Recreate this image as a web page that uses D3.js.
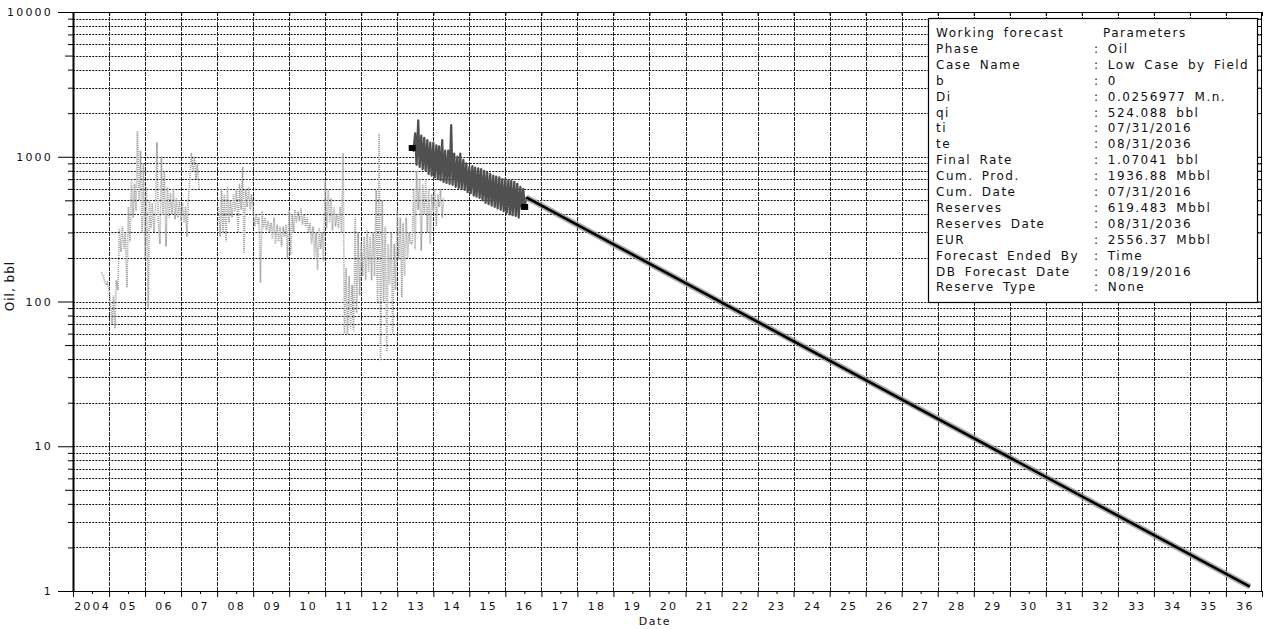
<!DOCTYPE html>
<html>
<head>
<meta charset="utf-8">
<script src="https://cdn.jsdelivr.net/npm/d3@7"></script>
<style>
  html, body { margin: 0; padding: 0; background: #fff; }
  svg { display: block; }
  text { font-family: "DejaVu Sans", sans-serif; fill: #111; }
</style>
</head>
<body>
<svg id="chart" width="1264" height="629"></svg>
<script>
// ---- Oil rate history (daily readings, gray) ----
const histDates = [
  "2004-10-15","2004-11-01","2004-11-15","2004-12-01","2004-12-15",
  "2005-01-01","2005-01-15","2005-02-01","2005-02-15","2005-03-01","2005-03-15","2005-04-01","2005-04-15","2005-05-01","2005-05-15","2005-06-01","2005-06-15",
  "2005-07-01","2005-07-15","2005-08-01","2005-08-15","2005-09-01","2005-09-15","2005-10-01","2005-10-15","2005-11-01","2005-11-15","2005-12-01","2005-12-15",
  "2006-01-01","2006-01-15","2006-02-01","2006-02-15","2006-03-01","2006-03-15","2006-04-01","2006-04-15","2006-05-01","2006-05-15","2006-06-01","2006-06-15",
  "2006-07-01","2006-07-15","2006-08-01","2006-08-15","2006-09-01","2006-09-15","2006-10-01","2006-10-15","2006-11-01","2006-11-15","2006-12-01","2006-12-15",
  "2007-01-01","2007-01-15","2007-02-01","2007-02-15","2007-03-01","2007-03-15","2007-04-01","2007-04-15","2007-05-01","2007-05-15","2007-06-01","2007-06-15",
  "2007-07-01","2007-07-15",
  "2008-01-15","2008-02-01","2008-02-15","2008-03-01","2008-03-15","2008-04-01","2008-04-15","2008-05-01","2008-05-15","2008-06-01","2008-06-15",
  "2008-07-01","2008-07-15","2008-08-01","2008-08-15","2008-09-01","2008-09-15","2008-10-01","2008-10-15","2008-11-01","2008-11-15","2008-12-01","2008-12-15",
  "2009-01-01","2009-01-15","2009-02-01","2009-02-15","2009-03-01","2009-03-15","2009-04-01","2009-04-15","2009-05-01","2009-05-15","2009-06-01","2009-06-15",
  "2009-07-01","2009-07-15","2009-08-01","2009-08-15","2009-09-01","2009-09-15","2009-10-01","2009-10-15","2009-11-01","2009-11-15","2009-12-01","2009-12-15",
  "2010-01-01","2010-01-15","2010-02-01","2010-02-15","2010-03-01","2010-03-15","2010-04-01","2010-04-15","2010-05-01","2010-05-15","2010-06-01","2010-06-15",
  "2010-07-01","2010-07-15","2010-08-01","2010-08-15","2010-09-01","2010-09-15","2010-10-01","2010-10-15","2010-11-01","2010-11-15","2010-12-01","2010-12-15",
  "2011-01-01","2011-01-15","2011-02-01","2011-02-15","2011-03-01","2011-03-15","2011-04-01","2011-04-15","2011-05-01","2011-05-15","2011-06-01","2011-06-15",
  "2011-07-01","2011-07-15","2011-08-01","2011-08-15","2011-09-01","2011-09-15","2011-10-01","2011-10-15","2011-11-01","2011-11-15","2011-12-01","2011-12-15",
  "2012-01-01","2012-01-15","2012-02-01","2012-02-15","2012-03-01","2012-03-15","2012-04-01","2012-04-15","2012-05-01","2012-05-15","2012-06-01","2012-06-15",
  "2012-07-01","2012-07-15","2012-08-01","2012-08-15","2012-09-01","2012-09-15","2012-10-01","2012-10-15","2012-11-01","2012-11-15","2012-12-01","2012-12-15",
  "2013-01-01","2013-01-15","2013-02-01","2013-02-15","2013-03-01","2013-03-15","2013-04-01","2013-04-15","2013-05-01","2013-05-15","2013-06-01","2013-06-15",
  "2013-07-01","2013-07-15","2013-08-01","2013-08-15","2013-09-01","2013-09-15","2013-10-01","2013-10-15","2013-11-01","2013-11-15","2013-12-01","2013-12-15",
  "2014-01-01","2014-01-15","2014-02-01","2014-02-15","2014-03-01","2014-03-15","2014-04-01","2014-04-15"
];
const histOil = [
  160,150,140,130,135,
  120,95,70,110,65,140,120,320,220,330,230,300,
  125,450,260,700,380,650,420,1500,500,1100,300,900,
  200,620,90,500,320,480,300,420,1260,350,250,1000,
  400,800,240,620,380,560,400,600,370,520,380,500,
  360,480,350,450,280,500,720,1060,800,1000,700,900,
  600,null,
  450,280,600,300,550,260,620,350,500,380,550,
  420,600,300,650,430,850,215,600,450,620,430,550,
  420,330,400,340,380,135,420,320,380,310,360,300,
  350,270,380,250,340,260,330,240,330,280,340,200,
  430,210,400,300,430,350,420,360,440,340,400,330,
  380,300,350,250,330,200,300,165,320,230,300,190,
  690,320,600,350,520,310,450,330,400,320,450,300,
  1060,60,170,60,150,65,130,62,380,83,300,110,
  250,150,280,140,310,160,280,140,300,150,590,97,
  1450,39,500,100,330,45,250,130,300,60,250,120,
  430,195,380,107,350,150,380,200,300,250,250,600,
  230,800,430,700,225,650,400,700,300,600,250,550,
  420,600,330,550,450,600,380,520
];

// ---- Readings used for the decline fit (dark) ----
const fitDates = [
  "2013-06-01","2013-06-15","2013-07-01","2013-07-15","2013-08-01","2013-08-15","2013-09-01","2013-09-15","2013-10-01","2013-10-15","2013-11-01","2013-11-15","2013-12-01","2013-12-15",
  "2014-01-01","2014-01-15","2014-02-01","2014-02-15","2014-03-01","2014-03-15","2014-04-01","2014-04-15","2014-05-01","2014-05-15","2014-06-01","2014-06-15",
  "2014-07-01","2014-07-15","2014-08-01","2014-08-15","2014-09-01","2014-09-15","2014-10-01","2014-10-15","2014-11-01","2014-11-15","2014-12-01","2014-12-15",
  "2015-01-01","2015-01-15","2015-02-01","2015-02-15","2015-03-01","2015-03-15","2015-04-01","2015-04-15","2015-05-01","2015-05-15","2015-06-01","2015-06-15",
  "2015-07-01","2015-07-15","2015-08-01","2015-08-15","2015-09-01","2015-09-15","2015-10-01","2015-10-15","2015-11-01","2015-11-15","2015-12-01","2015-12-15",
  "2016-01-01","2016-01-15","2016-02-01","2016-02-15","2016-03-01","2016-03-15","2016-04-01","2016-04-15","2016-05-01","2016-05-15","2016-06-01","2016-06-15",
  "2016-07-01","2016-07-15","2016-07-31"
];
const fitOil = [
  1150,1100,1450,880,1780,850,1400,820,1350,800,1300,760,1250,740,
  1250,720,1200,700,1180,690,1300,670,1100,660,1100,650,
  1650,640,1050,620,1000,610,1050,600,950,590,900,570,
  850,560,860,540,840,530,830,520,820,500,800,480,
  780,470,760,460,740,450,730,440,720,430,700,420,
  700,410,690,400,680,395,670,390,650,380,620,440,
  600,450,524
];

// ---- Exponential forecast (straight on the log axis) ----
const forecastDates = ["2016-07-31", "2036-08-31"];
const forecastOil = [524.088, 1.07041];

// ---- Axis text ----
const yearLabels = ["2004","05","06","07","08","09","10","11","12","13","14","15","16","17","18","19","20",
  "21","22","23","24","25","26","27","28","29","30","31","32","33","34","35","36"];
const rateLabels = ["1","10","100","1000","10000"];
const rateMajors = [1, 10, 100, 1000, 10000];

// ---- Forecast parameter table ----
const paramNames = ["Working forecast","Phase","Case Name","b","Di","qi","ti","te","Final Rate","Cum. Prod.",
  "Cum. Date","Reserves","Reserves Date","EUR","Forecast Ended By","DB Forecast Date","Reserve Type"];
const paramValues = ["Parameters",": Oil",": Low Case by Field",": 0",": 0.0256977 M.n.",": 524.088 bbl",
  ": 07/31/2016",": 08/31/2036",": 1.07041 bbl",": 1936.88 Mbbl",": 07/31/2016",": 619.483 Mbbl",
  ": 08/31/2036",": 2556.37 Mbbl",": Time",": 08/19/2016",": None"];

(function draw() {
  const parse = d3.utcParse("%Y-%m-%d");
  const svg = d3.select("#chart");

  const plotLeft = 73, plotRight = 1262, plotTop = 12, plotBottom = 591;
  const x = d3.scaleUtc().domain([Date.UTC(2004, 0, 1), Date.UTC(2037, 0, 1)]).range([plotLeft, plotRight]);
  const y = d3.scaleLog().domain([1, 10000]).range([plotBottom, plotTop]);

  const yearStarts = d3.utcYear.range(new Date(Date.UTC(2004, 0, 1)), new Date(Date.UTC(2037, 0, 2)));
  const midYears = yearLabels.map((_, i) => new Date(Date.UTC(2004 + i, 6, 2)));

  // minor rate levels 2..9 within each decade
  const minorRates = [];
  [1, 10, 100, 1000].forEach(d => { for (let k = 2; k <= 9; k++) minorRates.push(d * k); });

  // ---- grid ----
  const grid = svg.append("g").attr("class", "grid");
  grid.selectAll("line.h")
    .data(minorRates.concat([10, 100, 1000]))
    .join("line")
    .attr("x1", plotLeft).attr("x2", plotRight)
    .attr("y1", d => Math.round(y(d)) + 0.5).attr("y2", d => Math.round(y(d)) + 0.5)
    .attr("stroke", "#111").attr("stroke-width", 1).attr("stroke-dasharray", "2,1.2");
  grid.selectAll("line.v")
    .data(yearStarts.slice(1, -1))
    .join("line")
    .attr("x1", d => Math.round(x(d)) + 0.5).attr("x2", d => Math.round(x(d)) + 0.5)
    .attr("y1", plotTop).attr("y2", plotBottom)
    .attr("stroke", "#222").attr("stroke-width", 1).attr("stroke-dasharray", "4,1");

  // ---- data ----
  const hist = histDates.map((d, i) => ({ t: parse(d), v: histOil[i] }));
  const fit = fitDates.map((d, i) => ({ t: parse(d), v: fitOil[i] }));
  const fc = forecastDates.map((d, i) => ({ t: parse(d), v: forecastOil[i] }));

  const line = d3.line().defined(d => d.v != null).x(d => x(d.t)).y(d => y(d.v));

  svg.append("path").datum(hist).attr("d", line)
    .attr("fill", "none").attr("stroke", "#a2a2a2").attr("stroke-width", 1.7)
    .attr("stroke-dasharray", "1,1");

  svg.append("path").datum(fit).attr("d", line)
    .attr("fill", "none").attr("stroke", "#505050").attr("stroke-width", 2.3)
    .attr("stroke-linejoin", "round");

  // square markers where the fit window starts and ends
  svg.append("g").selectAll("rect")
    .data([fit[0], fit[fit.length - 2]])
    .join("rect")
    .attr("x", d => x(d.t) - 3.5).attr("y", d => y(d.v) - 3)
    .attr("width", 7).attr("height", 6).attr("fill", "#000");

  svg.append("path").datum(fc).attr("d", line)
    .attr("fill", "none").attr("stroke", "#8a8a8a").attr("stroke-width", 6).attr("stroke-opacity", 0.7);
  svg.append("path").datum(fc).attr("d", line)
    .attr("fill", "none").attr("stroke", "#000").attr("stroke-width", 2.6);

  // ---- axes ----
  const axisFont = g => g.selectAll("text")
    .attr("font-family", "DejaVu Sans, sans-serif").attr("font-size", 11)
    .attr("letter-spacing", "2.2px").attr("fill", "#111");

  // bottom: year boundary ticks
  const xTicks = svg.append("g").attr("transform", `translate(0,${plotBottom})`)
    .call(d3.axisBottom(x).tickValues(yearStarts).tickSize(6).tickFormat(""));
  xTicks.select(".domain").remove();
  xTicks.selectAll("line").attr("stroke", "#000");
  svg.append("line").attr("x1", 58).attr("x2", plotRight).attr("y1", plotBottom + 0.5).attr("y2", plotBottom + 0.5)
    .attr("stroke", "#000").attr("stroke-width", 1.2);

  // bottom: year labels centred inside each year
  const xLabels = svg.append("g").attr("transform", `translate(1,${plotBottom})`)
    .call(d3.axisBottom(x).tickValues(midYears).tickSize(3).tickPadding(8)
      .tickFormat((d, i) => yearLabels[i]));
  xLabels.select(".domain").remove();
  xLabels.selectAll("line").attr("stroke", "#000");
  axisFont(xLabels);

  // top frame with inward ticks
  svg.append("line").attr("x1", plotLeft).attr("x2", plotRight).attr("y1", plotTop + 0.5).attr("y2", plotTop + 0.5)
    .attr("stroke", "#000").attr("stroke-width", 1.2);
  const topTicks = svg.append("g").attr("transform", `translate(0,${plotTop})`)
    .call(d3.axisBottom(x).tickValues(yearStarts).tickSize(4).tickFormat(""));
  topTicks.select(".domain").remove();
  topTicks.selectAll("line").attr("stroke", "#000");

  // right frame with inward ticks
  svg.append("line").attr("x1", plotRight - 0.5).attr("x2", plotRight - 0.5).attr("y1", plotTop).attr("y2", plotBottom)
    .attr("stroke", "#000").attr("stroke-width", 1);
  const rightTicks = svg.append("g").attr("transform", `translate(${plotRight},0)`)
    .call(d3.axisLeft(y).tickValues(minorRates.concat(rateMajors)).tickSize(4).tickFormat(""));
  rightTicks.select(".domain").remove();
  rightTicks.selectAll("line").attr("stroke", "#000");

  // left axis: majors with labels, minors, longer tick at the 5s
  const yMajor = svg.append("g").attr("transform", `translate(${plotLeft},0)`)
    .call(d3.axisLeft(y).tickValues(rateMajors).tickSize(15).tickPadding(5)
      .tickFormat((d, i) => rateLabels[i]));
  yMajor.select(".domain").remove();
  yMajor.selectAll("line").attr("stroke", "#000");
  axisFont(yMajor);

  const yMinor = svg.append("g").attr("transform", `translate(${plotLeft},0)`)
    .call(d3.axisLeft(y).tickValues(minorRates).tickFormat("")
      .tickSizeInner(5).tickSizeOuter(0));
  yMinor.select(".domain").remove();
  yMinor.selectAll("line")
    .attr("x2", d => (String(d)[0] === "5" ? -8 : -5))
    .attr("stroke", "#000");

  svg.append("line").attr("x1", plotLeft + 0.5).attr("x2", plotLeft + 0.5).attr("y1", plotTop).attr("y2", plotBottom)
    .attr("stroke", "#000").attr("stroke-width", 2);

  // axis titles
  svg.append("text").attr("x", 655).attr("y", 625).attr("text-anchor", "middle")
    .attr("font-size", 11).attr("letter-spacing", "1.5px").text("Date");
  svg.append("text").attr("transform", "translate(14,286) rotate(-90)").attr("text-anchor", "middle")
    .attr("font-size", 12).attr("letter-spacing", "1px").text("Oil, bbl");

  // ---- parameter table ----
  const box = svg.append("g");
  box.append("rect").attr("x", 928.5).attr("y", 18.5).attr("width", 329).attr("height", 284)
    .attr("fill", "#fff").attr("stroke", "#000").attr("stroke-width", 1.2);
  const rowY = i => 37 + i * 15.9;
  box.selectAll("text.name").data(paramNames).join("text")
    .attr("x", 936).attr("y", (d, i) => rowY(i))
    .attr("font-size", 12).attr("letter-spacing", "1.5px").attr("word-spacing", "3px")
    .text(d => d);
  box.selectAll("text.val").data(paramValues).join("text")
    .attr("x", (d, i) => (i === 0 ? 1103 : 1094)).attr("y", (d, i) => rowY(i))
    .attr("font-size", 12).attr("letter-spacing", "1.5px").attr("word-spacing", "3px")
    .text(d => d);
})();
</script>
</body>
</html>
